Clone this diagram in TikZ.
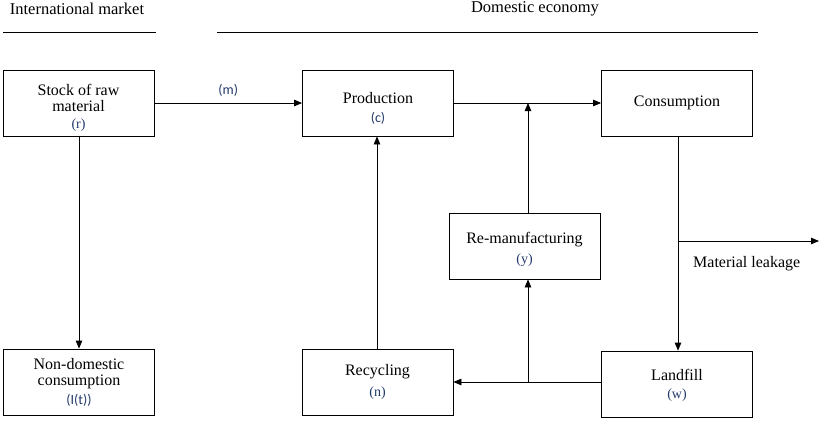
\documentclass[tikz,border=0pt]{standalone}
\usepackage{fontspec}
\setmainfont{Liberation Serif}
\newfontfamily\labsans{Carlito}
\usetikzlibrary{arrows.meta}
\definecolor{varblue}{RGB}{35,58,105}
\begin{document}
\begin{tikzpicture}[x=1pt,y=-1pt,
  box/.style={draw, line width=0.8pt, minimum width=151pt, minimum height=66pt, inner sep=0pt},
  txt/.style={inner sep=0pt, font=\fontsize{16}{17}\selectfont},
  vl/.style={inner sep=0pt, text=varblue, font=\fontsize{14}{15}\selectfont},
  vls/.style={inner sep=0pt, text=varblue, font=\labsans\fontsize{14}{15}\selectfont},
  conn/.style={line width=0.8pt, -{Triangle[length=8pt,width=6.5pt]}},
  plain/.style={line width=0.8pt},
  head/.style={inner sep=0pt, font=\fontsize{16.5}{17}\selectfont}]
\useasboundingbox (0,0) rectangle (819,421);
% headers
\node[head] (im) at (77,9) {International market};
\node[head] (de) at (535,9) {Domestic economy};
\coordinate (l1a) at (3,32); \coordinate (l1b) at (156,32);
\coordinate (l2a) at (217,32); \coordinate (l2b) at (758,32);
\draw[plain] (l1a) -- (l1b);
\draw[plain] (l2a) -- (l2b);
% boxes
\node[box] (stock) at (78.5,103) {};
\node[box] (prod) at (378,103) {};
\node[box] (cons) at (677,103) {};
\node[box] (reman) at (524.5,246) {};
\node[box] (nondom) at (79,382) {};
\node[box] (recyc) at (377.5,382) {};
\node[box] (land) at (677,384) {};
% texts
\node[txt] (stock1) at (78.5,89.5) {Stock of raw};
\node[txt] (stock2) at (78.5,106.5) {material};
\node[vl] (stock3) at (78.5,125) {(r)};
\node[txt] (prod1) at (378,98) {Production};
\node[vls] (prod2) at (378,118) {(c)};
\node[txt] (cons1) at (677,103) {Consumption};
\node[txt] (reman1) at (524.5,240) {Re-manufacturing};
\node[vl] (reman2) at (524.5,260) {(y)};
\node[txt] (nondom1) at (79,364.5) {Non-domestic};
\node[txt] (nondom2) at (79,382) {consumption};
\node[vls] (nondom3) at (79,400) {(I(t))};
\node[txt] (recyc1) at (377.5,372) {Recycling};
\node[vl] (recyc2) at (377.5,393) {(n)};
\node[txt] (land1) at (677,375) {Landfill};
\node[vl] (land2) at (677,395) {(w)};
% connectors
\draw[conn] (stock.east) -- node[above=6pt, vls] (m) {(m)} (prod.west);
\draw[conn] (prod.east) -- (cons.west);
\coordinate (jr) at (528,103);
\draw[conn] (reman.north -| jr) -- (jr);
\draw[conn] (stock.south -| 79,0) -- (nondom.north -| 79,0);
\draw[conn] (recyc.north -| 377,0) -- (prod.south -| 377,0);
\coordinate (ct) at (678,136);
\coordinate (leak) at (678,241);
\coordinate (leakend) at (819,241);
\draw[conn] (ct) -- (land.north -| ct);
\draw[conn] (leak) -- (leakend);
\node[txt, anchor=west] (ml) at (693,264) {Material leakage};
\coordinate (lw) at (601,382);
\coordinate (jl) at (528,382);
\draw[conn] (lw) -- (recyc.east |- lw);
\draw[conn] (jl) -- (reman.south -| jl);
\end{tikzpicture}
\end{document}
